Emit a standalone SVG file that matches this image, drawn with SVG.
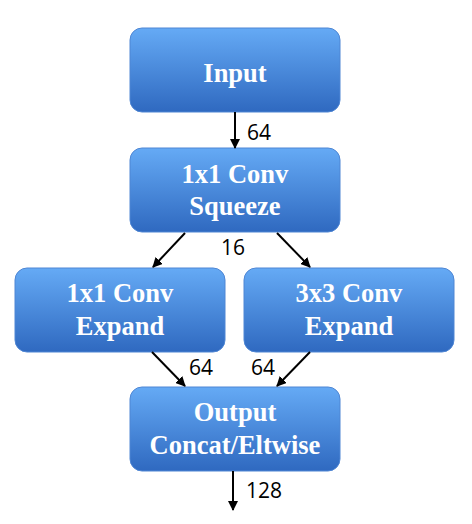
<svg xmlns="http://www.w3.org/2000/svg" width="472" height="524" viewBox="0 0 472 524">
<defs>
<linearGradient id="g" x1="0" y1="0" x2="0" y2="1">
<stop offset="0" stop-color="#65AAF5"/>
<stop offset="1" stop-color="#2F69C0"/>
</linearGradient>
<marker id="ah" markerWidth="10" markerHeight="10" refX="9" refY="5" orient="auto" markerUnits="userSpaceOnUse">
<path d="M0,0 L10,5 L0,10 z" fill="#000"/>
</marker>
<style>
.box{fill:url(#g);stroke:#4F86D4;stroke-width:1}
.t{font-family:"Liberation Serif","Times New Roman",serif;font-weight:bold;font-size:26.5px;fill:#fff;text-anchor:middle}
.l{font-family:"Open Sans","Noto Sans",sans-serif;font-size:21px;fill:#000}
.c{stroke:#000;stroke-width:2;fill:none;marker-end:url(#ah)}
</style>
</defs>
<rect width="472" height="524" fill="#fff"/>
<g id="input"><rect class="box" x="130" y="28" width="210" height="84" rx="12"/><text class="t" x="235" y="82">Input</text></g>
<g id="squeeze"><rect class="box" x="130" y="148" width="210" height="84" rx="12"/><text class="t" x="235" y="183">1x1 Conv</text><text class="t" x="235" y="215">Squeeze</text></g>
<g id="expand1"><rect class="box" x="15" y="268" width="210" height="84" rx="12"/><text class="t" x="120" y="302">1x1 Conv</text><text class="t" x="120" y="335">Expand</text></g>
<g id="expand3"><rect class="box" x="244" y="268" width="210" height="84" rx="12"/><text class="t" x="349" y="302">3x3 Conv</text><text class="t" x="349" y="335">Expand</text></g>
<g id="output"><rect class="box" x="130" y="387" width="210" height="84" rx="12"/><text class="t" x="235" y="421">Output</text><text class="t" x="235" y="454">Concat/Eltwise</text></g>
<g id="connectors">
<line class="c" x1="235" y1="112" x2="235" y2="148"/>
<line class="c" x1="185" y1="233" x2="153" y2="267"/>
<line class="c" x1="277" y1="233" x2="310" y2="267"/>
<line class="c" x1="152" y1="352" x2="185" y2="386"/>
<line class="c" x1="310" y1="352" x2="277" y2="386"/>
<line class="c" x1="233" y1="471" x2="233" y2="510"/>
</g>
<g id="labels">
<text class="l" x="247" y="140">64</text>
<text class="l" x="221" y="255">16</text>
<text class="l" x="189" y="375">64</text>
<text class="l" x="251" y="375">64</text>
<text class="l" x="246" y="498">128</text>
</g>
</svg>
